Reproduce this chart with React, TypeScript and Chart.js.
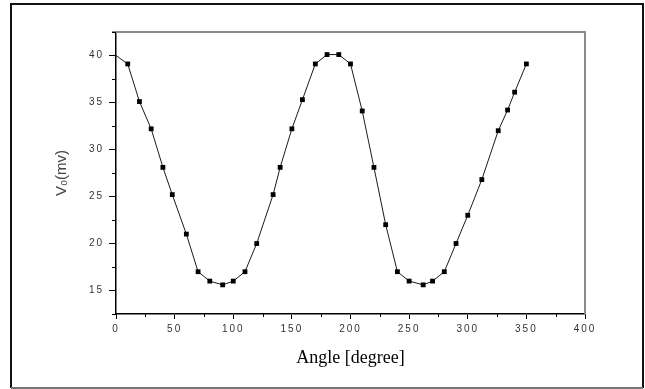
import React, { useEffect, useRef } from "react";
import { Chart, registerables } from "chart.js";

Chart.register(...registerables);

const angles = [0, 10, 20, 30, 40, 48, 60, 70, 80, 91, 100, 110, 120, 134, 140, 150, 159, 170, 180, 190, 200, 210, 220, 230, 240, 250, 262, 270, 280, 290, 300, 312, 326, 334, 340, 350];
const voltages = [40, 39.1, 35.1, 32.2, 28.1, 25.2, 21, 17, 16, 15.6, 16, 17, 20, 25.2, 28.1, 32.2, 35.3, 39.1, 40.1, 40.1, 39.1, 34.1, 28.1, 22, 17, 16, 15.6, 16, 17, 20, 23, 26.8, 32, 34.2, 36.1, 39.1];

const xTicks = [0, 50, 100, 150, 200, 250, 300, 350, 400];
const xMinor = [25, 75, 125, 175, 225, 275, 325, 375];
const yTicks = [15, 20, 25, 30, 35, 40];
const yMinor = [12.5, 17.5, 22.5, 27.5, 32.5, 37.5, 42.5];

const xTitle = "Angle [degree]";
const yTitle = "V\u2080(mv)";

const decorPlugin = {
  id: "decor",
  afterDatasetsDraw(chart: any) {
    chart.ctx.letterSpacing = "2px";
  },
  afterDraw(chart: any) {
    const ctx = chart.ctx;
    ctx.letterSpacing = "0px";
    const { left, right, top, bottom } = chart.chartArea;
    const xs = chart.scales.x;
    const ys = chart.scales.y;
    ctx.save();
    // top and right gray frame of plot
    ctx.strokeStyle = "#8a8a8a";
    ctx.lineWidth = 2;
    ctx.beginPath();
    ctx.moveTo(left - 4, top);
    ctx.lineTo(right, top);
    ctx.lineTo(right, bottom);
    ctx.stroke();
    // minor ticks
    ctx.strokeStyle = "#000";
    ctx.lineWidth = 1;
    ctx.beginPath();
    xMinor.forEach((v) => {
      const px = Math.round(xs.getPixelForValue(v)) + 0.5;
      ctx.moveTo(px, bottom);
      ctx.lineTo(px, bottom + 3);
    });
    yMinor.forEach((v) => {
      const py = Math.round(ys.getPixelForValue(v)) + 0.5;
      ctx.moveTo(left - 4, py);
      ctx.lineTo(left, py);
    });
    ctx.stroke();
    // outer frame
    ctx.strokeStyle = "#111";
    ctx.lineWidth = 2;
    ctx.beginPath();
    ctx.moveTo(11, 388);
    ctx.lineTo(11, 4);
    ctx.lineTo(643, 4);
    ctx.lineTo(643, 388);
    ctx.stroke();
    ctx.strokeStyle = "#777";
    ctx.beginPath();
    ctx.moveTo(11, 388);
    ctx.lineTo(643, 388);
    ctx.stroke();
    ctx.restore();
  },
};

export default function App() {
  const ref = useRef<HTMLCanvasElement>(null);
  useEffect(() => {
    const canvas = ref.current!;
    const chart = new Chart(canvas, {
      type: "scatter",
      data: {
        datasets: [
          {
            data: angles.map((a, i) => ({ x: a, y: voltages[i] })),
            showLine: true,
            borderColor: "#1a1a1a",
            borderWidth: 1,
            backgroundColor: "#000",
            pointBackgroundColor: "#000",
            pointBorderColor: "#000",
            pointBorderWidth: 0,
            pointStyle: "rect",
            pointRadius: (c: any) => (c.dataIndex === 0 ? 0 : 3.4),
            tension: 0,
          },
        ],
      },
      options: {
        animation: false,
        responsive: false,
        maintainAspectRatio: false,
        layout: { padding: { left: 0, top: 32, right: 60, bottom: 0 } },
        plugins: { legend: { display: false }, tooltip: { enabled: false } },
        scales: {
          x: {
            type: "linear",
            min: 0,
            max: 400,
            afterBuildTicks: (s: any) => {
              s.ticks = xTicks.map((v) => ({ value: v }));
            },
            afterFit: (s: any) => {
              s.height = 75;
            },
            grid: { display: true, drawOnChartArea: false, drawTicks: true, tickLength: 5, color: "#000", lineWidth: 1 },
            border: { display: true, color: "#000", width: 1.5 },
            ticks: {
              z: 1,
              padding: 4,
              color: "#333",
              maxRotation: 0,
              font: { family: "'Liberation Sans', Arial, sans-serif", size: 10 },
            },
            title: {
              display: true,
              text: xTitle,
              color: "#000",
              padding: { top: 0, bottom: 20 },
              font: { family: "'Liberation Serif', 'Times New Roman', serif", size: 18 },
            },
          },
          y: {
            type: "linear",
            min: 12.5,
            max: 42.5,
            afterBuildTicks: (s: any) => {
              s.ticks = yTicks.map((v) => ({ value: v }));
            },
            afterFit: (s: any) => {
              s.width = 116;
            },
            grid: { display: true, drawOnChartArea: false, drawTicks: true, tickLength: 7, color: "#000", lineWidth: 1 },
            border: { display: true, color: "#000", width: 1.5 },
            ticks: {
              z: 1,
              padding: 5,
              color: "#333",
              font: { family: "'Liberation Sans', Arial, sans-serif", size: 10 },
            },
            title: {
              display: true,
              text: yTitle,
              color: "#444",
              padding: { top: 53, bottom: 0 },
              font: { family: "'Liberation Sans', Arial, sans-serif", size: 15 },
            },
          },
        },
      },
      plugins: [decorPlugin],
    } as any);
    return () => chart.destroy();
  }, []);
  return (
    <div style={{ position: "absolute", left: 0, top: 0, width: 645, height: 389, background: "#fff" }}>
      <canvas ref={ref} width={645} height={389} style={{ display: "block" }} />
    </div>
  );
}
